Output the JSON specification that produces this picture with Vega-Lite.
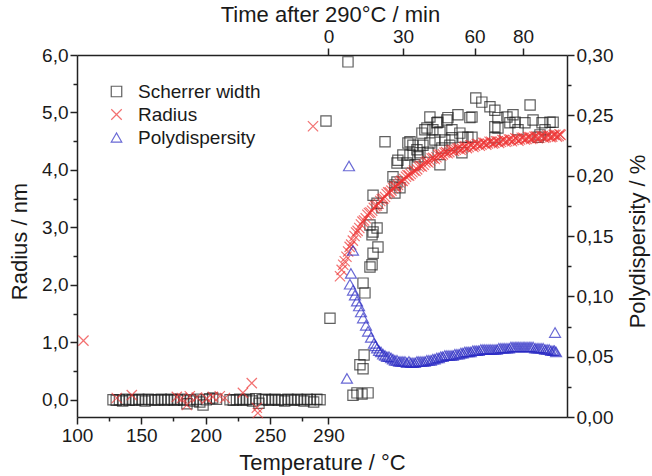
{
  "$schema": "https://vega.github.io/schema/vega-lite/v6.json",
  "width": 490,
  "height": 362,
  "autosize": {"type": "none"},
  "padding": {"left": 77, "top": 55, "right": 85, "bottom": 59},
  "background": "white",
  "config": {
    "view": {"stroke": null},
    "font": "Liberation Sans",
    "axis": {
      "grid": false,
      "domainColor": "#222222",
      "domainWidth": 1.5,
      "tickColor": "#222222",
      "tickWidth": 1.5,
      "labelFont": "Liberation Sans",
      "labelFontSize": 19,
      "labelColor": "#1a1a1a",
      "titleFont": "Liberation Sans",
      "titleFontSize": 22,
      "titleFontWeight": "normal",
      "titleColor": "#1a1a1a",
      "labelPadding": 2,
      "labelFlush": false,
      "labelOverlap": false
    }
  },
  "data": {
    "values": [
      {"series": "Scherrer width", "x": 128, "y": 0.0},
      {"series": "Scherrer width", "x": 130.5, "y": -0.01},
      {"series": "Scherrer width", "x": 133, "y": 0.0},
      {"series": "Scherrer width", "x": 135.5, "y": -0.02},
      {"series": "Scherrer width", "x": 138, "y": 0.01},
      {"series": "Scherrer width", "x": 140.5, "y": -0.01},
      {"series": "Scherrer width", "x": 143, "y": 0.0},
      {"series": "Scherrer width", "x": 145.5, "y": -0.01},
      {"series": "Scherrer width", "x": 148, "y": 0.01},
      {"series": "Scherrer width", "x": 150.5, "y": 0.0},
      {"series": "Scherrer width", "x": 153, "y": -0.02},
      {"series": "Scherrer width", "x": 155.5, "y": 0.01},
      {"series": "Scherrer width", "x": 158, "y": 0.0},
      {"series": "Scherrer width", "x": 160.5, "y": -0.01},
      {"series": "Scherrer width", "x": 163, "y": 0.0},
      {"series": "Scherrer width", "x": 165.5, "y": 0.01},
      {"series": "Scherrer width", "x": 168, "y": -0.01},
      {"series": "Scherrer width", "x": 170.5, "y": 0.0},
      {"series": "Scherrer width", "x": 173, "y": 0.01},
      {"series": "Scherrer width", "x": 175.5, "y": -0.01},
      {"series": "Scherrer width", "x": 178, "y": 0.0},
      {"series": "Scherrer width", "x": 180.5, "y": 0.01},
      {"series": "Scherrer width", "x": 183, "y": -0.01},
      {"series": "Scherrer width", "x": 185.5, "y": -0.07},
      {"series": "Scherrer width", "x": 188, "y": 0.0},
      {"series": "Scherrer width", "x": 190.5, "y": -0.02},
      {"series": "Scherrer width", "x": 193, "y": 0.01},
      {"series": "Scherrer width", "x": 195.5, "y": -0.04},
      {"series": "Scherrer width", "x": 198, "y": -0.09},
      {"series": "Scherrer width", "x": 200.5, "y": 0.0},
      {"series": "Scherrer width", "x": 203, "y": 0.02},
      {"series": "Scherrer width", "x": 205.5, "y": 0.03},
      {"series": "Scherrer width", "x": 208.5, "y": 0.01},
      {"series": "Scherrer width", "x": 219, "y": 0.0},
      {"series": "Scherrer width", "x": 221.5, "y": -0.01},
      {"series": "Scherrer width", "x": 224, "y": 0.0},
      {"series": "Scherrer width", "x": 226.5, "y": 0.01},
      {"series": "Scherrer width", "x": 229, "y": -0.01},
      {"series": "Scherrer width", "x": 231.5, "y": 0.0},
      {"series": "Scherrer width", "x": 234, "y": 0.01},
      {"series": "Scherrer width", "x": 236.5, "y": -0.02},
      {"series": "Scherrer width", "x": 239, "y": 0.02},
      {"series": "Scherrer width", "x": 241.5, "y": -0.06},
      {"series": "Scherrer width", "x": 244, "y": 0.0},
      {"series": "Scherrer width", "x": 246.5, "y": 0.01},
      {"series": "Scherrer width", "x": 249, "y": -0.01},
      {"series": "Scherrer width", "x": 251.5, "y": 0.0},
      {"series": "Scherrer width", "x": 254, "y": 0.01},
      {"series": "Scherrer width", "x": 256.5, "y": -0.01},
      {"series": "Scherrer width", "x": 259, "y": 0.0},
      {"series": "Scherrer width", "x": 261.5, "y": -0.02},
      {"series": "Scherrer width", "x": 264, "y": 0.01},
      {"series": "Scherrer width", "x": 266.5, "y": 0.0},
      {"series": "Scherrer width", "x": 269, "y": -0.01},
      {"series": "Scherrer width", "x": 271.5, "y": 0.01},
      {"series": "Scherrer width", "x": 274, "y": 0.0},
      {"series": "Scherrer width", "x": 276.5, "y": -0.02},
      {"series": "Scherrer width", "x": 279, "y": 0.01},
      {"series": "Scherrer width", "x": 281.5, "y": 0.0},
      {"series": "Scherrer width", "x": 284, "y": -0.04},
      {"series": "Scherrer width", "x": 286.5, "y": 0.01},
      {"series": "Scherrer width", "x": 289, "y": 0.0},
      {"series": "Scherrer width", "x": 293.6, "y": 4.85},
      {"series": "Scherrer width", "x": 296.7, "y": 1.42},
      {"series": "Scherrer width", "x": 310.7, "y": 5.88},
      {"series": "Scherrer width", "x": 314.6, "y": 0.08},
      {"series": "Scherrer width", "x": 317.7, "y": 0.12},
      {"series": "Scherrer width", "x": 321.6, "y": 0.1},
      {"series": "Scherrer width", "x": 326.3, "y": 0.12},
      {"series": "Scherrer width", "x": 320.0, "y": 0.61},
      {"series": "Scherrer width", "x": 322.4, "y": 0.54},
      {"series": "Scherrer width", "x": 323.2, "y": 0.78},
      {"series": "Scherrer width", "x": 323.9, "y": 1.86},
      {"series": "Scherrer width", "x": 322.4, "y": 2.03},
      {"series": "Scherrer width", "x": 327.8, "y": 2.31},
      {"series": "Scherrer width", "x": 329.4, "y": 2.35},
      {"series": "Scherrer width", "x": 330.2, "y": 2.55},
      {"series": "Scherrer width", "x": 334.0, "y": 2.66},
      {"series": "Scherrer width", "x": 329.4, "y": 2.87},
      {"series": "Scherrer width", "x": 333.3, "y": 2.99},
      {"series": "Scherrer width", "x": 327.8, "y": 3.04},
      {"series": "Scherrer width", "x": 330.2, "y": 2.92},
      {"series": "Scherrer width", "x": 330.2, "y": 3.56},
      {"series": "Scherrer width", "x": 333.3, "y": 3.42},
      {"series": "Scherrer width", "x": 337.1, "y": 3.34},
      {"series": "Scherrer width", "x": 348.8, "y": 3.79},
      {"series": "Scherrer width", "x": 347.2, "y": 3.6},
      {"series": "Scherrer width", "x": 351.1, "y": 3.69},
      {"series": "Scherrer width", "x": 348.8, "y": 4.12},
      {"series": "Scherrer width", "x": 356.6, "y": 4.12},
      {"series": "Scherrer width", "x": 362.8, "y": 4.09},
      {"series": "Scherrer width", "x": 339.5, "y": 4.49},
      {"series": "Scherrer width", "x": 349.5, "y": 4.17},
      {"series": "Scherrer width", "x": 353.4, "y": 4.26},
      {"series": "Scherrer width", "x": 345.7, "y": 3.88},
      {"series": "Scherrer width", "x": 347.2, "y": 3.74},
      {"series": "Scherrer width", "x": 357.3, "y": 4.47},
      {"series": "Scherrer width", "x": 358.9, "y": 4.49},
      {"series": "Scherrer width", "x": 361.2, "y": 4.43},
      {"series": "Scherrer width", "x": 358.9, "y": 4.26},
      {"series": "Scherrer width", "x": 364.3, "y": 4.35},
      {"series": "Scherrer width", "x": 365.1, "y": 4.23},
      {"series": "Scherrer width", "x": 366.6, "y": 4.3},
      {"series": "Scherrer width", "x": 368.2, "y": 4.64},
      {"series": "Scherrer width", "x": 369.0, "y": 4.43},
      {"series": "Scherrer width", "x": 370.5, "y": 4.7},
      {"series": "Scherrer width", "x": 372.1, "y": 4.73},
      {"series": "Scherrer width", "x": 372.9, "y": 4.31},
      {"series": "Scherrer width", "x": 374.4, "y": 4.92},
      {"series": "Scherrer width", "x": 374.4, "y": 4.47},
      {"series": "Scherrer width", "x": 376.7, "y": 4.7},
      {"series": "Scherrer width", "x": 378.3, "y": 4.52},
      {"series": "Scherrer width", "x": 379.8, "y": 4.82},
      {"series": "Scherrer width", "x": 380.6, "y": 4.83},
      {"series": "Scherrer width", "x": 382.2, "y": 4.66},
      {"series": "Scherrer width", "x": 382.2, "y": 4.09},
      {"series": "Scherrer width", "x": 383.7, "y": 4.38},
      {"series": "Scherrer width", "x": 386.0, "y": 4.52},
      {"series": "Scherrer width", "x": 387.6, "y": 4.87},
      {"series": "Scherrer width", "x": 388.4, "y": 4.91},
      {"series": "Scherrer width", "x": 389.9, "y": 4.43},
      {"series": "Scherrer width", "x": 391.5, "y": 4.7},
      {"series": "Scherrer width", "x": 391.5, "y": 4.56},
      {"series": "Scherrer width", "x": 396.2, "y": 4.96},
      {"series": "Scherrer width", "x": 397.7, "y": 4.64},
      {"series": "Scherrer width", "x": 399.3, "y": 4.3},
      {"series": "Scherrer width", "x": 400.1, "y": 4.57},
      {"series": "Scherrer width", "x": 403.9, "y": 4.57},
      {"series": "Scherrer width", "x": 405.5, "y": 4.91},
      {"series": "Scherrer width", "x": 407.1, "y": 4.92},
      {"series": "Scherrer width", "x": 407.1, "y": 4.57},
      {"series": "Scherrer width", "x": 410.1, "y": 5.25},
      {"series": "Scherrer width", "x": 414.8, "y": 5.18},
      {"series": "Scherrer width", "x": 421.1, "y": 5.1},
      {"series": "Scherrer width", "x": 424.9, "y": 5.04},
      {"series": "Scherrer width", "x": 424.9, "y": 4.75},
      {"series": "Scherrer width", "x": 424.9, "y": 4.56},
      {"series": "Scherrer width", "x": 427.3, "y": 4.91},
      {"series": "Scherrer width", "x": 427.3, "y": 4.73},
      {"series": "Scherrer width", "x": 434.3, "y": 4.92},
      {"series": "Scherrer width", "x": 436.6, "y": 4.82},
      {"series": "Scherrer width", "x": 439.0, "y": 4.96},
      {"series": "Scherrer width", "x": 440.6, "y": 4.83},
      {"series": "Scherrer width", "x": 442.9, "y": 4.7},
      {"series": "Scherrer width", "x": 448.3, "y": 4.82},
      {"series": "Scherrer width", "x": 452.3, "y": 5.13},
      {"series": "Scherrer width", "x": 454.6, "y": 4.87},
      {"series": "Scherrer width", "x": 458.5, "y": 4.57},
      {"series": "Scherrer width", "x": 460.0, "y": 4.61},
      {"series": "Scherrer width", "x": 461.6, "y": 4.82},
      {"series": "Scherrer width", "x": 463.9, "y": 4.7},
      {"series": "Scherrer width", "x": 467.8, "y": 4.83},
      {"series": "Scherrer width", "x": 470.2, "y": 4.83},
      {"series": "Radius", "x": 105, "y": 1.03},
      {"series": "Radius", "x": 130.9, "y": 0.03},
      {"series": "Radius", "x": 142.6, "y": 0.08},
      {"series": "Radius", "x": 177.6, "y": 0.05},
      {"series": "Radius", "x": 181.5, "y": 0.03},
      {"series": "Radius", "x": 185.4, "y": -0.09},
      {"series": "Radius", "x": 187.7, "y": 0.06},
      {"series": "Radius", "x": 193.2, "y": 0.04},
      {"series": "Radius", "x": 200.9, "y": 0.02},
      {"series": "Radius", "x": 205.6, "y": 0.05},
      {"series": "Radius", "x": 211, "y": 0.06},
      {"series": "Radius", "x": 215, "y": 0.03},
      {"series": "Radius", "x": 229, "y": 0.12},
      {"series": "Radius", "x": 235.9, "y": 0.29},
      {"series": "Radius", "x": 239.8, "y": -0.14},
      {"series": "Radius", "x": 240.6, "y": -0.23},
      {"series": "Radius", "x": 283.5, "y": 4.76},
      {"series": "Radius", "x": 304.5, "y": 2.15},
      {"series": "Radius", "x": 305.8, "y": 2.26},
      {"series": "Radius", "x": 307, "y": 2.35},
      {"series": "Radius", "x": 308.2, "y": 2.41},
      {"series": "Radius", "x": 309.5, "y": 2.49},
      {"series": "Radius", "x": 310.8, "y": 2.58},
      {"series": "Radius", "x": 312, "y": 2.66},
      {"series": "Radius", "x": 313.2, "y": 2.7},
      {"series": "Radius", "x": 314.5, "y": 2.77},
      {"series": "Radius", "x": 315.8, "y": 2.85},
      {"series": "Radius", "x": 317, "y": 2.91},
      {"series": "Radius", "x": 318.2, "y": 2.94},
      {"series": "Radius", "x": 319.5, "y": 2.99},
      {"series": "Radius", "x": 320.8, "y": 3.05},
      {"series": "Radius", "x": 322, "y": 3.1},
      {"series": "Radius", "x": 323.2, "y": 3.12},
      {"series": "Radius", "x": 324.5, "y": 3.16},
      {"series": "Radius", "x": 325.8, "y": 3.22},
      {"series": "Radius", "x": 327, "y": 3.25},
      {"series": "Radius", "x": 328.2, "y": 3.26},
      {"series": "Radius", "x": 329.5, "y": 3.29},
      {"series": "Radius", "x": 330.8, "y": 3.34},
      {"series": "Radius", "x": 332, "y": 3.37},
      {"series": "Radius", "x": 333.2, "y": 3.38},
      {"series": "Radius", "x": 334.5, "y": 3.41},
      {"series": "Radius", "x": 335.8, "y": 3.46},
      {"series": "Radius", "x": 337, "y": 3.49},
      {"series": "Radius", "x": 338.2, "y": 3.5},
      {"series": "Radius", "x": 339.5, "y": 3.53},
      {"series": "Radius", "x": 340.8, "y": 3.58},
      {"series": "Radius", "x": 342, "y": 3.61},
      {"series": "Radius", "x": 343.2, "y": 3.61},
      {"series": "Radius", "x": 344.5, "y": 3.64},
      {"series": "Radius", "x": 345.8, "y": 3.68},
      {"series": "Radius", "x": 347, "y": 3.71},
      {"series": "Radius", "x": 348.2, "y": 3.71},
      {"series": "Radius", "x": 349.5, "y": 3.74},
      {"series": "Radius", "x": 350.8, "y": 3.78},
      {"series": "Radius", "x": 352, "y": 3.81},
      {"series": "Radius", "x": 353.2, "y": 3.81},
      {"series": "Radius", "x": 354.5, "y": 3.84},
      {"series": "Radius", "x": 355.8, "y": 3.88},
      {"series": "Radius", "x": 357, "y": 3.91},
      {"series": "Radius", "x": 358.2, "y": 3.9},
      {"series": "Radius", "x": 359.5, "y": 3.93},
      {"series": "Radius", "x": 360.8, "y": 3.96},
      {"series": "Radius", "x": 362, "y": 3.99},
      {"series": "Radius", "x": 363.2, "y": 3.98},
      {"series": "Radius", "x": 364.5, "y": 4.01},
      {"series": "Radius", "x": 365.8, "y": 4.05},
      {"series": "Radius", "x": 367, "y": 4.07},
      {"series": "Radius", "x": 368.2, "y": 4.06},
      {"series": "Radius", "x": 369.5, "y": 4.09},
      {"series": "Radius", "x": 370.8, "y": 4.13},
      {"series": "Radius", "x": 372, "y": 4.15},
      {"series": "Radius", "x": 373.2, "y": 4.13},
      {"series": "Radius", "x": 374.5, "y": 4.16},
      {"series": "Radius", "x": 375.8, "y": 4.2},
      {"series": "Radius", "x": 377, "y": 4.21},
      {"series": "Radius", "x": 378.2, "y": 4.19},
      {"series": "Radius", "x": 379.5, "y": 4.22},
      {"series": "Radius", "x": 380.8, "y": 4.26},
      {"series": "Radius", "x": 382, "y": 4.27},
      {"series": "Radius", "x": 383.2, "y": 4.25},
      {"series": "Radius", "x": 384.5, "y": 4.27},
      {"series": "Radius", "x": 385.8, "y": 4.3},
      {"series": "Radius", "x": 387, "y": 4.31},
      {"series": "Radius", "x": 388.2, "y": 4.29},
      {"series": "Radius", "x": 389.5, "y": 4.31},
      {"series": "Radius", "x": 390.8, "y": 4.34},
      {"series": "Radius", "x": 392, "y": 4.35},
      {"series": "Radius", "x": 393.2, "y": 4.33},
      {"series": "Radius", "x": 394.5, "y": 4.35},
      {"series": "Radius", "x": 395.8, "y": 4.37},
      {"series": "Radius", "x": 397, "y": 4.38},
      {"series": "Radius", "x": 398.2, "y": 4.35},
      {"series": "Radius", "x": 399.5, "y": 4.37},
      {"series": "Radius", "x": 400.8, "y": 4.4},
      {"series": "Radius", "x": 402, "y": 4.41},
      {"series": "Radius", "x": 403.2, "y": 4.38},
      {"series": "Radius", "x": 404.5, "y": 4.4},
      {"series": "Radius", "x": 405.8, "y": 4.43},
      {"series": "Radius", "x": 407, "y": 4.43},
      {"series": "Radius", "x": 408.2, "y": 4.4},
      {"series": "Radius", "x": 409.5, "y": 4.42},
      {"series": "Radius", "x": 410.8, "y": 4.45},
      {"series": "Radius", "x": 412, "y": 4.45},
      {"series": "Radius", "x": 413.2, "y": 4.42},
      {"series": "Radius", "x": 414.5, "y": 4.44},
      {"series": "Radius", "x": 415.8, "y": 4.47},
      {"series": "Radius", "x": 417, "y": 4.47},
      {"series": "Radius", "x": 418.2, "y": 4.44},
      {"series": "Radius", "x": 419.5, "y": 4.46},
      {"series": "Radius", "x": 420.8, "y": 4.49},
      {"series": "Radius", "x": 422, "y": 4.49},
      {"series": "Radius", "x": 423.2, "y": 4.46},
      {"series": "Radius", "x": 424.5, "y": 4.47},
      {"series": "Radius", "x": 425.8, "y": 4.5},
      {"series": "Radius", "x": 427, "y": 4.5},
      {"series": "Radius", "x": 428.2, "y": 4.47},
      {"series": "Radius", "x": 429.5, "y": 4.49},
      {"series": "Radius", "x": 430.8, "y": 4.52},
      {"series": "Radius", "x": 432, "y": 4.52},
      {"series": "Radius", "x": 433.2, "y": 4.49},
      {"series": "Radius", "x": 434.5, "y": 4.5},
      {"series": "Radius", "x": 435.8, "y": 4.53},
      {"series": "Radius", "x": 437, "y": 4.53},
      {"series": "Radius", "x": 438.2, "y": 4.5},
      {"series": "Radius", "x": 439.5, "y": 4.52},
      {"series": "Radius", "x": 440.8, "y": 4.55},
      {"series": "Radius", "x": 442, "y": 4.54},
      {"series": "Radius", "x": 443.2, "y": 4.51},
      {"series": "Radius", "x": 444.5, "y": 4.53},
      {"series": "Radius", "x": 445.8, "y": 4.56},
      {"series": "Radius", "x": 447, "y": 4.56},
      {"series": "Radius", "x": 448.2, "y": 4.53},
      {"series": "Radius", "x": 449.5, "y": 4.54},
      {"series": "Radius", "x": 450.8, "y": 4.57},
      {"series": "Radius", "x": 452, "y": 4.57},
      {"series": "Radius", "x": 453.2, "y": 4.54},
      {"series": "Radius", "x": 454.5, "y": 4.55},
      {"series": "Radius", "x": 455.8, "y": 4.58},
      {"series": "Radius", "x": 457, "y": 4.58},
      {"series": "Radius", "x": 458.2, "y": 4.55},
      {"series": "Radius", "x": 459.5, "y": 4.56},
      {"series": "Radius", "x": 460.8, "y": 4.59},
      {"series": "Radius", "x": 462, "y": 4.59},
      {"series": "Radius", "x": 463.2, "y": 4.56},
      {"series": "Radius", "x": 464.5, "y": 4.57},
      {"series": "Radius", "x": 465.8, "y": 4.6},
      {"series": "Radius", "x": 467, "y": 4.6},
      {"series": "Radius", "x": 468.2, "y": 4.57},
      {"series": "Radius", "x": 469.5, "y": 4.58},
      {"series": "Radius", "x": 470.8, "y": 4.61},
      {"series": "Radius", "x": 472, "y": 4.61},
      {"series": "Radius", "x": 473.2, "y": 4.58},
      {"series": "Radius", "x": 474.5, "y": 4.59},
      {"series": "Radius", "x": 475.2, "y": 4.62},
      {"series": "Radius", "x": 476, "y": 4.61},
      {"series": "Polydispersity", "x": 309.9, "y": 0.032},
      {"series": "Polydispersity", "x": 311.5, "y": 0.208},
      {"series": "Polydispersity", "x": 314.6, "y": 0.138},
      {"series": "Polydispersity", "x": 313.0, "y": 0.119},
      {"series": "Polydispersity", "x": 312.2, "y": 0.11},
      {"series": "Polydispersity", "x": 314.6, "y": 0.105},
      {"series": "Polydispersity", "x": 316.1, "y": 0.101},
      {"series": "Polydispersity", "x": 317.7, "y": 0.096},
      {"series": "Polydispersity", "x": 319.3, "y": 0.092},
      {"series": "Polydispersity", "x": 320.8, "y": 0.087},
      {"series": "Polydispersity", "x": 322.4, "y": 0.082},
      {"series": "Polydispersity", "x": 324.7, "y": 0.076},
      {"series": "Polydispersity", "x": 326.3, "y": 0.071},
      {"series": "Polydispersity", "x": 328.6, "y": 0.066},
      {"series": "Polydispersity", "x": 330.9, "y": 0.061},
      {"series": "Polydispersity", "x": 332.1, "y": 0.059},
      {"series": "Polydispersity", "x": 333.3, "y": 0.057},
      {"series": "Polydispersity", "x": 334.8, "y": 0.055},
      {"series": "Polydispersity", "x": 336.4, "y": 0.054},
      {"series": "Polydispersity", "x": 338.0, "y": 0.052},
      {"series": "Polydispersity", "x": 339.5, "y": 0.051},
      {"series": "Polydispersity", "x": 341.0, "y": 0.05},
      {"series": "Polydispersity", "x": 342.6, "y": 0.05},
      {"series": "Polydispersity", "x": 344.2, "y": 0.049},
      {"series": "Polydispersity", "x": 345.7, "y": 0.048},
      {"series": "Polydispersity", "x": 347.2, "y": 0.047},
      {"series": "Polydispersity", "x": 348.8, "y": 0.047},
      {"series": "Polydispersity", "x": 350.4, "y": 0.046},
      {"series": "Polydispersity", "x": 351.9, "y": 0.046},
      {"series": "Polydispersity", "x": 353.4, "y": 0.046},
      {"series": "Polydispersity", "x": 355.0, "y": 0.046},
      {"series": "Polydispersity", "x": 356.5, "y": 0.045},
      {"series": "Polydispersity", "x": 358.1, "y": 0.046},
      {"series": "Polydispersity", "x": 359.6, "y": 0.045},
      {"series": "Polydispersity", "x": 361.2, "y": 0.045},
      {"series": "Polydispersity", "x": 362.8, "y": 0.045},
      {"series": "Polydispersity", "x": 364.3, "y": 0.046},
      {"series": "Polydispersity", "x": 365.8, "y": 0.046},
      {"series": "Polydispersity", "x": 367.4, "y": 0.046},
      {"series": "Polydispersity", "x": 369.0, "y": 0.046},
      {"series": "Polydispersity", "x": 370.5, "y": 0.046},
      {"series": "Polydispersity", "x": 372.0, "y": 0.047},
      {"series": "Polydispersity", "x": 373.6, "y": 0.047},
      {"series": "Polydispersity", "x": 375.2, "y": 0.047},
      {"series": "Polydispersity", "x": 376.7, "y": 0.048},
      {"series": "Polydispersity", "x": 378.2, "y": 0.048},
      {"series": "Polydispersity", "x": 379.8, "y": 0.049},
      {"series": "Polydispersity", "x": 381.4, "y": 0.049},
      {"series": "Polydispersity", "x": 382.9, "y": 0.05},
      {"series": "Polydispersity", "x": 384.4, "y": 0.05},
      {"series": "Polydispersity", "x": 386.0, "y": 0.051},
      {"series": "Polydispersity", "x": 387.6, "y": 0.051},
      {"series": "Polydispersity", "x": 389.2, "y": 0.051},
      {"series": "Polydispersity", "x": 390.8, "y": 0.051},
      {"series": "Polydispersity", "x": 392.3, "y": 0.051},
      {"series": "Polydispersity", "x": 393.8, "y": 0.052},
      {"series": "Polydispersity", "x": 395.4, "y": 0.052},
      {"series": "Polydispersity", "x": 397.0, "y": 0.052},
      {"series": "Polydispersity", "x": 398.5, "y": 0.053},
      {"series": "Polydispersity", "x": 400.0, "y": 0.053},
      {"series": "Polydispersity", "x": 401.6, "y": 0.054},
      {"series": "Polydispersity", "x": 403.2, "y": 0.054},
      {"series": "Polydispersity", "x": 404.7, "y": 0.054},
      {"series": "Polydispersity", "x": 406.2, "y": 0.054},
      {"series": "Polydispersity", "x": 407.8, "y": 0.055},
      {"series": "Polydispersity", "x": 409.4, "y": 0.055},
      {"series": "Polydispersity", "x": 410.9, "y": 0.055},
      {"series": "Polydispersity", "x": 412.4, "y": 0.055},
      {"series": "Polydispersity", "x": 414.0, "y": 0.056},
      {"series": "Polydispersity", "x": 415.6, "y": 0.056},
      {"series": "Polydispersity", "x": 417.1, "y": 0.056},
      {"series": "Polydispersity", "x": 418.7, "y": 0.056},
      {"series": "Polydispersity", "x": 420.3, "y": 0.056},
      {"series": "Polydispersity", "x": 421.8, "y": 0.056},
      {"series": "Polydispersity", "x": 423.4, "y": 0.056},
      {"series": "Polydispersity", "x": 425.0, "y": 0.056},
      {"series": "Polydispersity", "x": 426.5, "y": 0.056},
      {"series": "Polydispersity", "x": 428.0, "y": 0.057},
      {"series": "Polydispersity", "x": 429.6, "y": 0.057},
      {"series": "Polydispersity", "x": 431.2, "y": 0.057},
      {"series": "Polydispersity", "x": 432.7, "y": 0.057},
      {"series": "Polydispersity", "x": 434.3, "y": 0.057},
      {"series": "Polydispersity", "x": 435.9, "y": 0.057},
      {"series": "Polydispersity", "x": 437.4, "y": 0.058},
      {"series": "Polydispersity", "x": 439.0, "y": 0.058},
      {"series": "Polydispersity", "x": 440.6, "y": 0.058},
      {"series": "Polydispersity", "x": 442.1, "y": 0.058},
      {"series": "Polydispersity", "x": 443.6, "y": 0.058},
      {"series": "Polydispersity", "x": 445.2, "y": 0.058},
      {"series": "Polydispersity", "x": 446.8, "y": 0.058},
      {"series": "Polydispersity", "x": 448.3, "y": 0.058},
      {"series": "Polydispersity", "x": 449.9, "y": 0.058},
      {"series": "Polydispersity", "x": 451.5, "y": 0.058},
      {"series": "Polydispersity", "x": 453.0, "y": 0.058},
      {"series": "Polydispersity", "x": 454.6, "y": 0.058},
      {"series": "Polydispersity", "x": 456.2, "y": 0.057},
      {"series": "Polydispersity", "x": 457.7, "y": 0.057},
      {"series": "Polydispersity", "x": 459.2, "y": 0.057},
      {"series": "Polydispersity", "x": 460.8, "y": 0.057},
      {"series": "Polydispersity", "x": 462.4, "y": 0.057},
      {"series": "Polydispersity", "x": 463.9, "y": 0.056},
      {"series": "Polydispersity", "x": 465.5, "y": 0.056},
      {"series": "Polydispersity", "x": 467.1, "y": 0.056},
      {"series": "Polydispersity", "x": 468.6, "y": 0.055},
      {"series": "Polydispersity", "x": 470.2, "y": 0.055},
      {"series": "Polydispersity", "x": 471.3, "y": 0.055},
      {"series": "Polydispersity", "x": 472.5, "y": 0.054},
      {"series": "Polydispersity", "x": 471.7, "y": 0.07}
    ]
  },
  "layer": [
    {
      "transform": [{"filter": "datum.series != 'Polydispersity'"}],
      "mark": {"type": "point", "filled": false, "size": 105, "strokeWidth": 1.2},
      "encoding": {
        "x": {
          "field": "x", "type": "quantitative",
          "scale": {"domain": [100, 481], "nice": false, "zero": false},
          "axis": {
            "orient": "bottom",
            "title": "Temperature / °C",
            "values": [100, 125, 150, 175, 200, 225, 250, 275, 295.5],
            "labelExpr": "datum.value > 290 ? '290' : (datum.value % 50 == 0 ? datum.label : '')",
            "tickSize": {"condition": {"test": "datum.value % 50 == 25", "value": 4}, "value": 7},
            "titleY": 45,
            "titleBaseline": "middle"
          }
        },
        "y": {
          "field": "y", "type": "quantitative",
          "scale": {"domain": [-0.3, 6], "nice": false, "zero": false},
          "axis": {
            "orient": "left",
            "title": "Radius / nm",
            "values": [0, 0.5, 1, 1.5, 2, 2.5, 3, 3.5, 4, 4.5, 5, 5.5, 6],
            "labelExpr": "datum.value % 1 == 0 ? replace(format(datum.value, '.1f'), '.', ',') : ''",
            "tickSize": {"condition": {"test": "datum.value % 1 != 0", "value": 4}, "value": 7},
            "titleX": -58, "titleY": 186, "titleAngle": 270, "titleAlign": "center", "titleBaseline": "middle"
          }
        },
        "color": {
          "field": "series", "type": "nominal",
          "scale": {"domain": ["Scherrer width", "Radius", "Polydispersity"], "range": ["#1e1e1e", "#ee3535", "#2a2ac4"]},
          "legend": {"title": null, "orient": "none", "legendX": 30, "legendY": 27, "direction": "vertical", "labelFont": "Liberation Sans", "labelFontSize": 19, "labelColor": "#1a1a1a", "symbolSize": 110, "symbolStrokeWidth": 1.2, "rowPadding": 3, "labelOffset": 12, "padding": 0}
        },
        "shape": {
          "field": "series", "type": "nominal",
          "scale": {"domain": ["Scherrer width", "Radius", "Polydispersity"], "range": ["square", "M-1,-1L1,1M-1,1L1,-1", "triangle-up"]},
          "legend": {"title": null, "orient": "none", "legendX": 30, "legendY": 27, "direction": "vertical", "labelFont": "Liberation Sans", "labelFontSize": 19, "labelColor": "#1a1a1a", "symbolSize": 110, "symbolStrokeWidth": 1.2, "rowPadding": 3, "labelOffset": 12, "padding": 0}
        }
      }
    },
    {
      "transform": [{"filter": "datum.series == 'Polydispersity'"}],
      "mark": {"type": "point", "filled": false, "size": 120, "strokeWidth": 1.2},
      "encoding": {
        "x": {
          "field": "x", "type": "quantitative",
          "scale": {"domain": [100, 481], "nice": false, "zero": false},
          "axis": {
            "orient": "top",
            "title": "Time after 290°C / min",
            "values": [295.5, 353.5, 409.1, 446.8],
            "labelExpr": "datum.value < 300 ? '0' : (datum.value < 360 ? '30' : (datum.value < 420 ? '60' : '80'))",
            "tickSize": 7,
            "titleX": 253, "titleY": -41, "titleBaseline": "middle"
          }
        },
        "y": {
          "field": "y", "type": "quantitative",
          "scale": {"domain": [0, 0.3], "nice": false, "zero": false},
          "axis": {
            "orient": "right",
            "title": "Polydispersity / %",
            "values": [0, 0.025, 0.05, 0.075, 0.1, 0.125, 0.15, 0.175, 0.2, 0.225, 0.25, 0.275, 0.3],
            "labelExpr": "round(datum.value * 1000) % 50 == 0 ? replace(format(datum.value, '.2f'), '.', ',') : ''",
            "tickSize": {"condition": {"test": "round(datum.value * 1000) % 50 != 0", "value": 4}, "value": 7},
            "titleX": 70, "titleY": 186, "titleAngle": 270, "titleAlign": "center", "titleBaseline": "middle"
          }
        },
        "color": {
          "field": "series", "type": "nominal",
          "scale": {"domain": ["Scherrer width", "Radius", "Polydispersity"], "range": ["#1e1e1e", "#ee3535", "#2a2ac4"]},
          "legend": {"title": null, "orient": "none", "legendX": 30, "legendY": 27, "direction": "vertical", "labelFont": "Liberation Sans", "labelFontSize": 19, "labelColor": "#1a1a1a", "symbolSize": 110, "symbolStrokeWidth": 1.2, "rowPadding": 3, "labelOffset": 12, "padding": 0}
        },
        "shape": {
          "field": "series", "type": "nominal",
          "scale": {"domain": ["Scherrer width", "Radius", "Polydispersity"], "range": ["square", "M-1,-1L1,1M-1,1L1,-1", "triangle-up"]},
          "legend": {"title": null, "orient": "none", "legendX": 30, "legendY": 27, "direction": "vertical", "labelFont": "Liberation Sans", "labelFontSize": 19, "labelColor": "#1a1a1a", "symbolSize": 110, "symbolStrokeWidth": 1.2, "rowPadding": 3, "labelOffset": 12, "padding": 0}
        }
      }
    }
  ],
  "resolve": {
    "scale": {"y": "independent"},
    "axis": {"x": "independent", "y": "independent"}
  }
}
